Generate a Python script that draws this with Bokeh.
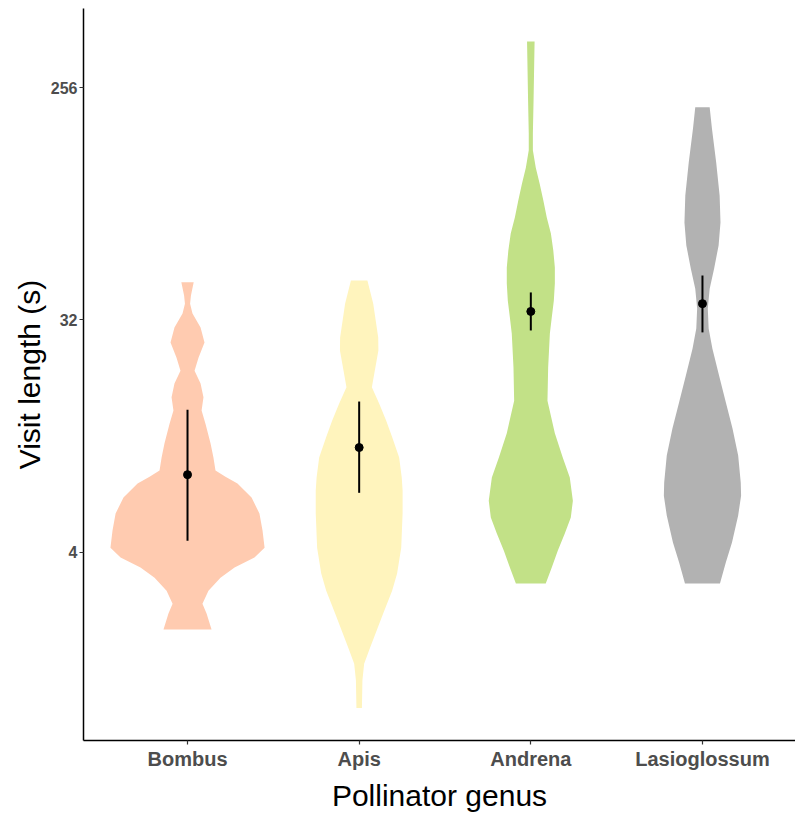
from bokeh.plotting import figure
from bokeh.models import FixedTicker, NumeralTickFormatter
from bokeh.embed import file_html
from bokeh.resources import INLINE

# ---- data ----
genera = ["Bombus", "Apis", "Andrena", "Lasioglossum"]
fill_colors = ["#FFCBB0", "#FFF4BD", "#C2E187", "#B2B2B2"]

# violin outlines: visit length (s) and half-width of the density (category units)
bombus_len = [44.8, 39.8, 37.0, 33.9, 29.9, 26.1, 22.8, 20.3, 18.1, 16.0, 14.2, 12.6, 10.6, 9.33,
              8.30, 7.86, 7.39, 6.52, 5.65, 4.85, 4.16, 3.81, 3.48, 3.18, 2.83, 2.52, 2.31, 2.0]
bombus_half = [0.036, 0.020, 0.015, 0.029, 0.076, 0.099, 0.064, 0.041, 0.076, 0.093, 0.082, 0.105, 0.134, 0.151,
               0.163, 0.221, 0.291, 0.373, 0.419, 0.437, 0.449, 0.390, 0.274, 0.192, 0.122, 0.087, 0.111, 0.140]

apis_len = [45.5, 37.0, 27.3, 24.3, 20.3, 17.5, 15.1, 13.0, 11.2, 9.33, 7.80,
            6.94, 5.65, 4.16, 3.30, 2.83, 2.31, 1.98, 1.70, 1.47, 1.27, 0.99]
apis_half = [0.048, 0.082, 0.111, 0.112, 0.091, 0.074, 0.117, 0.157, 0.192, 0.233, 0.248,
             0.253, 0.253, 0.245, 0.221, 0.192, 0.140, 0.102, 0.064, 0.029, 0.019, 0.016]

andrena_len = [387, 228, 170, 146, 125, 108, 93.1, 80.0, 69.3, 59.5, 51.1, 44.3, 38.0,
               32.7, 28.3, 20.9, 15.5, 11.6, 9.33, 7.80, 6.34, 5.45, 4.72, 4.05, 3.48, 3.02]
andrena_half = [0.022, 0.016, 0.012, 0.012, 0.029, 0.052, 0.073, 0.093, 0.117, 0.131, 0.140, 0.140, 0.134,
                0.122, 0.111, 0.101, 0.097, 0.140, 0.186, 0.227, 0.245, 0.233, 0.198, 0.157, 0.122, 0.087]

lasio_len = [215, 178, 131, 97.4, 76.5, 62.3, 50.7, 42.3, 35.4, 29.6, 24.7,
             19.4, 15.3, 12.1, 9.49, 7.45, 6.63, 5.55, 4.36, 3.64, 3.02]
lasio_half = [0.042, 0.055, 0.080, 0.100, 0.105, 0.094, 0.068, 0.042, 0.031, 0.036, 0.058,
              0.097, 0.136, 0.175, 0.208, 0.223, 0.225, 0.208, 0.172, 0.136, 0.102]

# mean and interval per genus
mean_len = [8.0, 10.2, 34.5, 37.0]
ci_low = [4.43, 6.80, 29.1, 28.6]
ci_high = [14.3, 15.4, 40.9, 47.6]

y_ticks = [4, 32, 256]

profiles_len = [bombus_len, apis_len, andrena_len, lasio_len]
profiles_half = [bombus_half, apis_half, andrena_half, lasio_half]

# ---- figure ----
FONT = "Liberation Sans"
p = figure(width=795, height=814, x_range=(0.394, 4.542), y_range=(0.740, 520),
           y_axis_type="log", output_backend="svg", toolbar_location=None,
           min_border_left=83, min_border_right=0, min_border_top=8, min_border_bottom=74)

xs = list(range(1, len(genera) + 1))
for x, lens, halves, col in zip(xs, profiles_len, profiles_half, fill_colors):
    p.harea(x1=[x - h for h in halves], x2=[x + h for h in halves], y=lens,
            fill_color=col, fill_alpha=1.0)

p.segment(x0=xs, y0=ci_low, x1=xs, y1=ci_high, line_color="black", line_width=2)
p.scatter(x=xs, y=mean_len, size=8, color="black")

# axes
p.xgrid.visible = False
p.ygrid.visible = False
p.outline_line_color = None
p.background_fill_color = "white"
p.border_fill_color = "white"

p.xaxis.ticker = FixedTicker(ticks=xs)
p.xaxis.major_label_overrides = {x: g for x, g in zip(xs, genera)}
p.yaxis.ticker = FixedTicker(ticks=y_ticks)
p.yaxis.formatter = NumeralTickFormatter(format="0")
p.yaxis.major_label_overrides = {t: str(t) for t in y_ticks}

for ax in (p.xaxis[0], p.yaxis[0]):
    ax.axis_line_color = "black"
    ax.axis_line_width = 1.5
    ax.major_tick_line_color = "#333333"
    ax.major_tick_line_width = 1.2
    ax.major_tick_in = 0
    ax.major_tick_out = 4
    ax.minor_tick_line_color = None
    ax.major_label_text_font = FONT
    ax.major_label_text_font_style = "bold"
    ax.major_label_text_color = "#4D4D4D"
    ax.axis_label_text_font = FONT
    ax.axis_label_text_font_style = "normal"
    ax.axis_label_text_font_size = "30px"
    ax.axis_label_text_color = "black"

p.xaxis.axis_label = "Pollinator genus"
p.yaxis.axis_label = "Visit length (s)"
p.xaxis.major_label_text_font_size = "20px"
p.yaxis.major_label_text_font_size = "16px"
p.xaxis.major_label_standoff = 3
p.xaxis.axis_label_standoff = 6
p.yaxis.major_label_standoff = 2
p.yaxis.axis_label_standoff = 2

open("out.html", "w").write(file_html(p, INLINE))
